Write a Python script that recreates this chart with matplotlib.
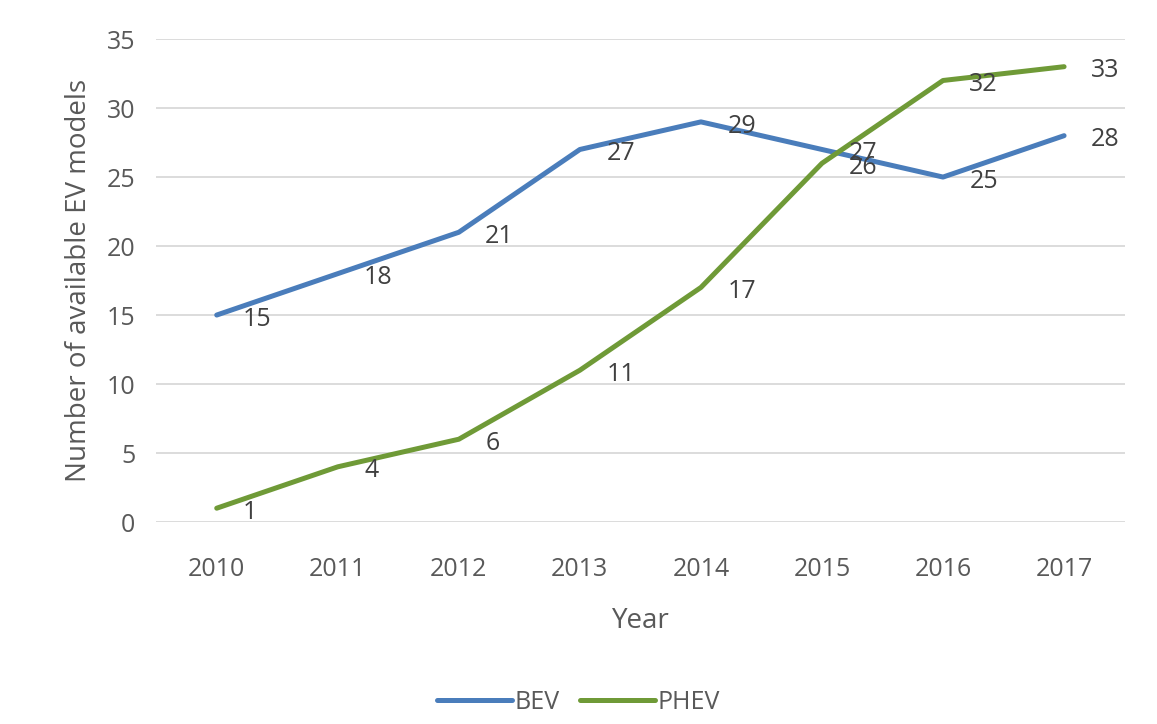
import matplotlib
matplotlib.use("Agg")
import matplotlib.pyplot as plt

years = ["2010", "2011", "2012", "2013", "2014", "2015", "2016", "2017"]
bev = [15, 18, 21, 27, 29, 27, 25, 28]
phev = [1, 4, 6, 11, 17, 26, 32, 33]

plt.rcParams["font.family"] = ["Open Sans", "DejaVu Sans"]
grey = "#595959"

fig = plt.figure(figsize=(11.57, 7.24), dpi=100)
ax = fig.add_axes([0.135, 0.279, 0.837, 0.667])

x = list(range(len(years)))
ax.plot(x, bev, color="#4a7dbb", lw=3.6, label="BEV", solid_capstyle="round", zorder=3)
ax.plot(x, phev, color="#6f9a37", lw=3.6, label="PHEV", solid_capstyle="round", zorder=3)

for xi, v in zip(x, bev):
    ax.annotate(str(v), (xi, v), xytext=(19, -3), textcoords="offset points",
                ha="left", va="center", fontsize=18, color="#404040", zorder=4)
for xi, v in zip(x, phev):
    ax.annotate(str(v), (xi, v), xytext=(19, -3), textcoords="offset points",
                ha="left", va="center", fontsize=18, color="#404040", zorder=4)

ax.set_xlim(-0.5, 7.5)
ax.set_ylim(0, 35)
ax.set_yticks(range(0, 36, 5))
ax.set_xticks(x)
ax.set_xticklabels(years)
ax.grid(axis="y", color="#d9d9d9", lw=1.3)
ax.set_axisbelow(True)
for s in ax.spines.values():
    s.set_visible(False)
ax.tick_params(length=0, labelsize=18, colors=grey)
ax.tick_params(axis="x", pad=25)
ax.tick_params(axis="y", pad=15)
ax.set_xlabel("Year", fontsize=20, color=grey, labelpad=18)
ax.set_ylabel("Number of available EV models", fontsize=20, color=grey, labelpad=10)

fig.legend(loc="lower center", bbox_to_anchor=(0.5, -0.018), ncol=2, frameon=False,
           fontsize=18, labelcolor=grey, handlelength=3.0, handletextpad=0.1, columnspacing=0.8)

fig.savefig("out.png", dpi=100)
